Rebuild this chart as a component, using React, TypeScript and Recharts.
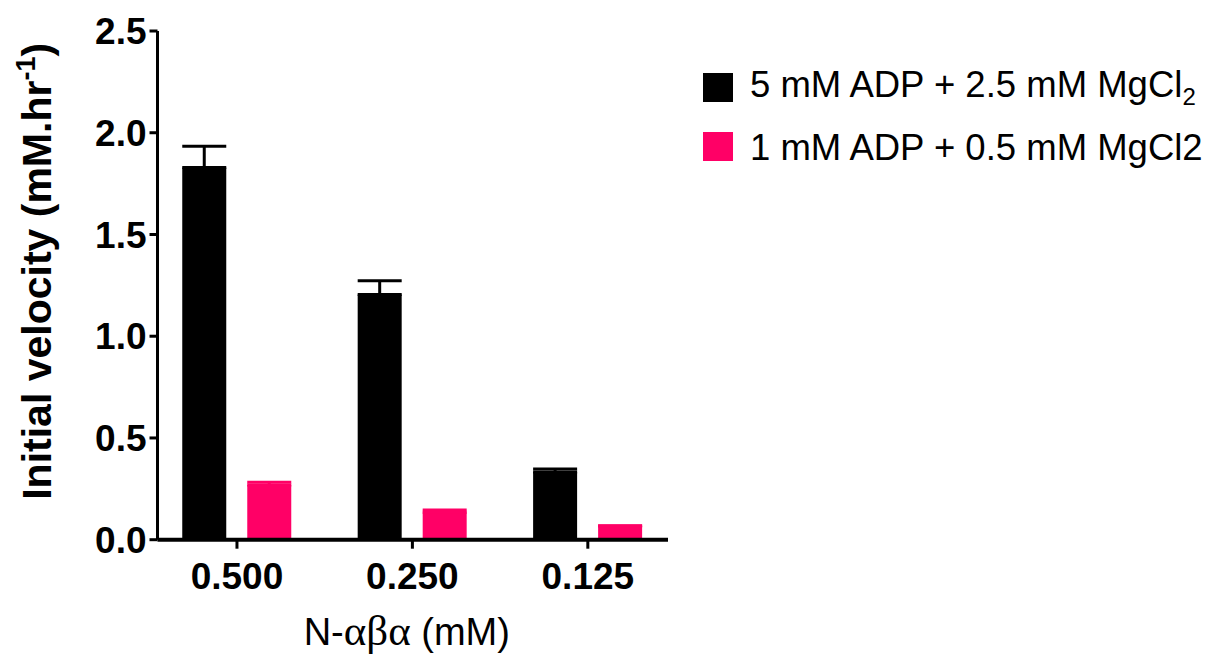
import React from 'react';
import { BarChart, Bar, XAxis, YAxis, ErrorBar, Legend } from 'recharts';

// Initial velocity vs. N-αβα concentration for two ADP/MgCl2 conditions
const categories = ['0.500', '0.250', '0.125'];
const highAdp = [1.829, 1.205, 0.333];
const highAdpSd = [0.104, 0.067, 0.015];
const lowAdp = [0.269, 0.135, 0.067];
const lowAdpSd = [0.013, 0.011, 0.002];
const yTicks = [0, 0.5, 1.0, 1.5, 2.0, 2.5];

const BLACK = '#000000';
const PINK = '#FF0066';
const SANS = '"Liberation Sans", Arial, Helvetica, sans-serif';

// error bars are drawn above the mean only
const data = categories.map((label, i) => ({
  x: i,
  label,
  high: highAdp[i],
  highSd: [0, highAdpSd[i]],
  low: lowAdp[i],
  lowSd: [0, lowAdpSd[i]],
}));

const YTitle = ({ viewBox }: any) => {
  const cx = viewBox.x - 6;
  const cy = viewBox.y + viewBox.height / 2 - 14;
  return (
    <text
      x={cx}
      y={cy}
      transform={`rotate(-90, ${cx}, ${cy})`}
      textAnchor="middle"
      fontFamily={SANS}
      fontWeight="bold"
      fontSize={41}
      fill={BLACK}
    >
      Initial velocity (mM.hr
      <tspan dy={-16} fontSize={27}>-1</tspan>
      <tspan dy={16}>)</tspan>
    </text>
  );
};

const XTitle = ({ viewBox }: any) => {
  const cx = viewBox.x + viewBox.width / 2 - 6;
  return (
    <text x={cx} y={viewBox.y + 105} textAnchor="middle" fontFamily={SANS} fontSize={38} fill={BLACK}>
      N-
      <tspan fontFamily='"Liberation Serif", "Times New Roman", serif' fontSize={43}>αβα</tspan>
      {' (mM)'}
    </text>
  );
};

const LegendBox = () => (
  <svg width={520} height={120} style={{ display: 'block', overflow: 'visible' }}>
    <rect x={0} y={13} width={30} height={29} fill={BLACK} />
    <text x={47} y={37} fontFamily={SANS} fontSize={36.5} fill={BLACK}>
      5 mM ADP + 2.5 mM MgCl
      <tspan dy={8} fontSize={24}>2</tspan>
    </text>
    <rect x={0} y={72} width={30} height={29} fill={PINK} />
    <text x={47} y={100} fontFamily={SANS} fontSize={36.5} fill={BLACK}>
      1 mM ADP + 0.5 mM MgCl2
    </text>
  </svg>
);

export default function App() {
  return (
    <div style={{ position: 'absolute', left: 0, top: 0, background: '#fff' }}>
      <BarChart
        width={1211}
        height={655}
        data={data}
        margin={{ top: 31, right: 543, left: 57.5, bottom: 45.3 }}
        barSize={44}
        barGap={21}
      >
        <XAxis
          dataKey="x"
          type="number"
          domain={[-0.453, 2.457]}
          ticks={[0, 1, 2]}
          allowDataOverflow
          height={70}
          tickFormatter={(v: number) => categories[v] ?? ''}
          axisLine={{ stroke: BLACK, strokeWidth: 4 }}
          tickLine={{ stroke: BLACK, strokeWidth: 3 }}
          tickSize={9}
          tickMargin={14}
          tick={{ fill: BLACK, fontSize: 37, fontWeight: 'bold', fontFamily: SANS }}
          label={{ content: XTitle }}
        />
        <YAxis
          type="number"
          domain={[0, 2.5]}
          ticks={yTicks}
          allowDataOverflow
          width={100}
          tickFormatter={(v: number) => v.toFixed(1)}
          axisLine={{ stroke: BLACK, strokeWidth: 3 }}
          tickLine={{ stroke: BLACK, strokeWidth: 3 }}
          tickSize={8}
          tickMargin={3}
          tick={{ fill: BLACK, fontSize: 37, fontWeight: 'bold', fontFamily: SANS }}
          label={{ content: YTitle }}
        />
        <Legend
          layout="vertical"
          align="center"
          verticalAlign="middle"
          content={LegendBox}
          wrapperStyle={{ position: 'absolute', left: 703, top: 60, width: 520, height: 120 }}
        />
        <Bar dataKey="high" name="5 mM ADP + 2.5 mM MgCl2" fill={BLACK} isAnimationActive={false}>
          <ErrorBar dataKey="highSd" direction="y" width={22} stroke={BLACK} strokeWidth={3} isAnimationActive={false} />
        </Bar>
        <Bar dataKey="low" name="1 mM ADP + 0.5 mM MgCl2" fill={PINK} isAnimationActive={false}>
          <ErrorBar dataKey="lowSd" direction="y" width={22} stroke={PINK} strokeWidth={3} isAnimationActive={false} />
        </Bar>
      </BarChart>
    </div>
  );
}
